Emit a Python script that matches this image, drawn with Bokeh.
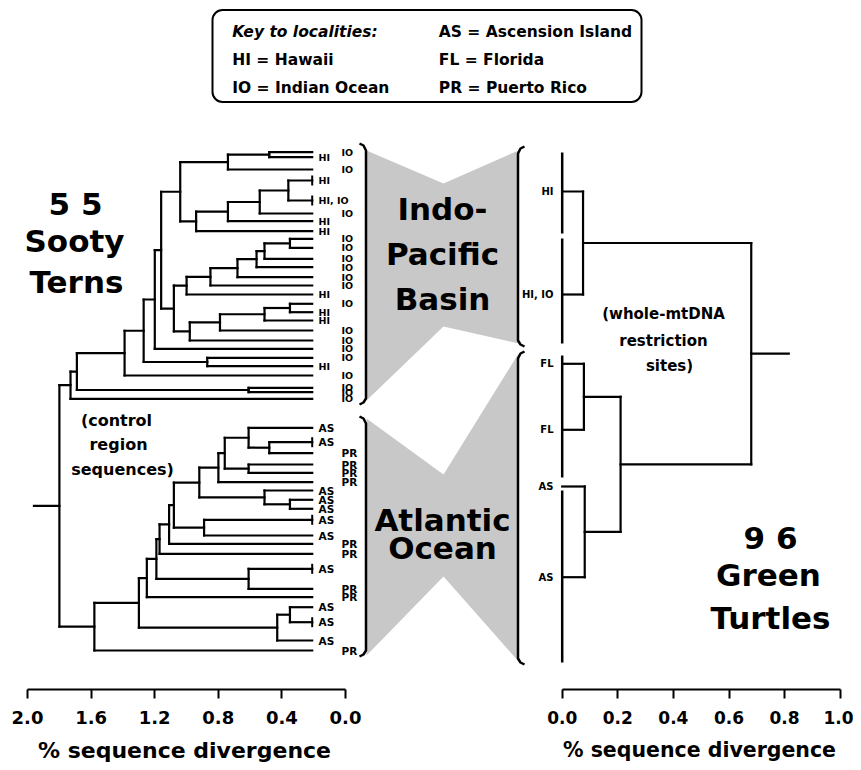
import numpy as np
from bokeh.plotting import figure
from bokeh.models import Range1d, LinearAxis, FixedTicker, PrintfTickFormatter, ColumnDataSource
from bokeh.core.properties import value
from bokeh.embed import file_html
from bokeh.resources import INLINE

# ---------------- data ----------------
key_left = ["Key to localities:", "HI = Hawaii", "IO = Indian Ocean"]
key_right = ["AS = Ascension Island", "FL = Florida", "PR = Puerto Rico"]

# Sooty terns (control region sequences), tips top -> bottom
tern_tip_y = [151.7, 156.7, 169, 180, 200, 213, 220.7, 230.7, 238.3, 247.3, 258.3, 266.7,
              276.7, 285, 294, 303.3, 311.7, 320, 330, 340, 348.3, 357.3, 365.7, 375,
              387.3, 391.7, 398.3,
              427.3, 441.7, 452.7, 464, 472.3, 481.7, 490, 499.3, 508.3, 519.3, 535,
              543.3, 553.3, 568.3, 588.3, 596.7, 606.7, 621.7, 640, 650]
tern_tip_site = ["IO", "HI", "IO", "HI", "HI, IO", "IO", "HI", "HI", "IO", "IO", "IO", "IO",
                 "IO", "IO", "HI", "IO", "HI", "HI", "IO", "IO", "IO", "IO", "HI", "IO",
                 "IO", "IO", "IO",
                 "AS", "AS", "PR", "PR", "PR", "PR", "AS", "AS", "AS", "AS", "AS",
                 "PR", "PR", "AS", "PR", "PR", "AS", "AS", "AS", "PR"]
tern_tip_bar = [3, 4, 28, 36, 40, 44]
tern_join_a = ["t0", "n0", "t3", "n2", "n3", "n4", "n1", "t8", "n7", "n8", "n9", "n10",
               "n11", "t15", "n13", "n14", "n15", "n12", "n6", "n18", "t21", "n19", "n21",
               "t24", "n22", "n24",
               "t28", "t27", "t30", "n27", "n29", "t34", "t33", "n30", "t36", "n33", "n35",
               "n36", "t40", "n37", "n39", "t43", "n41", "n40", "n43", "n25"]
tern_join_b = ["t1", "t2", "t4", "t5", "t6", "t7", "n5", "t9", "t10", "t11", "t12", "t13",
               "t14", "t16", "t17", "t18", "t19", "n16", "n17", "t20", "t22", "n20", "t23",
               "t25", "n23", "t26",
               "t29", "n26", "t31", "n28", "t32", "t35", "n31", "n32", "t37", "n34", "t38",
               "t39", "t41", "n38", "t42", "t44", "t45", "n42", "t46", "n44"]
tern_join_height = [0.27, 0.53, 0.15, 0.33, 0.53, 0.73, 0.83, 0.14, 0.30, 0.35, 0.47, 0.64,
                    0.79, 0.14, 0.30, 0.58, 0.77, 0.87, 0.95, 0.99, 0.66, 1.06, 1.18,
                    0.40, 1.48, 1.52,
                    0.27, 0.40, 0.40, 0.55, 0.59, 0.14, 0.30, 0.71, 0.68, 0.87, 0.90,
                    0.96, 0.40, 0.98, 1.04, 0.14, 0.22, 1.09, 1.37, 1.59]
tern_root_end = 1.75

# Green turtles (whole-mtDNA restriction sites)
turtle_tip_y = [191, 294, 363.3, 429.3, 486, 576.7]
turtle_tip_site = ["HI", "HI, IO", "FL", "FL", "AS", "AS"]
turtle_group_top = [152, 238, 355, 490]
turtle_group_bottom = [233, 343, 477, 662]
turtle_join_a = ["t0", "t2", "t4", "n1", "n0"]
turtle_join_b = ["t1", "t3", "t5", "n2", "n3"]
turtle_join_height = [0.075, 0.078, 0.081, 0.21, 0.68]
turtle_root_end = 0.815

left_ticks = [0.0, 0.4, 0.8, 1.2, 1.6, 2.0]
right_ticks = [0.0, 0.2, 0.4, 0.6, 0.8, 1.0]
axis_title = "% sequence divergence"

# ---------------- layout constants ----------------
W, H = 853, 762
PX0, PX1 = 0, W
PY0, PY1 = 0, H
T0, LS = 311.7, 159.0     # tern tree: tips at px, px per % (reversed)
S0 = 345.0                # left scale bar: 0.0 at px (same px per %)
R0, RS = 561.7, 278.0     # turtle tree / right axis
AXIS_Y = 689.0
FONT = value("DejaVu Sans")

p = figure(width=W, height=H, output_backend="svg", toolbar_location=None,
           x_axis_type=None, y_axis_type=None, min_border=0,
           x_range=Range1d((T0 - PX0) / LS, (T0 - PX1) / LS),
           y_range=Range1d(PY1, PY0))
p.extra_x_ranges = {"scale": Range1d((S0 - PX0) / LS, (S0 - PX1) / LS),
                    "right": Range1d((PX0 - R0) / RS, (PX1 - R0) / RS),
                    "px": Range1d(PX0, PX1)}
p.outline_line_color = None
p.grid.visible = False
p.background_fill_color = "white"


def tree_segments(tip_y, ja, jb, jh):
    pos = {f"t{i}": (0.0, y) for i, y in enumerate(tip_y)}
    x0, y0, x1, y1 = [], [], [], []
    for i, (a, b, h) in enumerate(zip(ja, jb, jh)):
        xa, ya = pos[a]
        xb, yb = pos[b]
        x0 += [xa, xb, h]
        y0 += [ya, yb, ya]
        x1 += [h, h, h]
        y1 += [ya, yb, yb]
        pos[f"n{i}"] = (h, (ya + yb) / 2)
    return dict(x0=x0, y0=y0, x1=x1, y1=y1), pos


# ---------------- gray connectors and brackets ----------------
gray = "#c8c8c8"
p.patch([366, 443, 518, 518, 443, 366], [150, 183, 150, 343, 326, 400],
        x_range_name="px", fill_color=gray, line_color=None)
p.patch([366, 443, 518, 518, 443, 366], [418, 474, 353, 661, 576, 655],
        x_range_name="px", fill_color=gray, line_color=None)

bk_xs = [[359, 363, 365.5, 365.5, 363, 359], [359, 363, 365.5, 365.5, 363, 359],
         [524, 520, 517.5, 517.5, 520, 524], [524, 520, 517.5, 517.5, 520, 524]]
bk_ys = [[143, 145, 150, 398, 402, 404], [416, 418, 423, 650, 654, 656],
         [146, 148, 153, 340, 344, 346], [351, 353, 358, 658, 662, 664]]
p.multi_line(bk_xs, bk_ys, x_range_name="px", line_color="black", line_width=2.5)

# ---------------- left tree ----------------
seg, tpos = tree_segments(tern_tip_y, tern_join_a, tern_join_b, tern_join_height)
root_x, root_y = tpos[f"n{len(tern_join_height) - 1}"]
seg["x0"].append(root_x); seg["y0"].append(root_y)
seg["x1"].append(tern_root_end); seg["y1"].append(root_y)
p.segment("x0", "y0", "x1", "y1", source=ColumnDataSource(seg), line_color="black",
          line_width=2.2, line_cap="square")
p.scatter([0.0] * len(tern_tip_bar), [tern_tip_y[i] for i in tern_tip_bar], marker="dash",
          angle=np.pi / 2, size=10, line_color="black", line_width=2)

col_x = [341 if s in ("IO", "PR") else 318 for s in tern_tip_site]
sz = ["10.5px" if s in ("AS", "PR") else "9.5px" for s in tern_tip_site]
p.text(x="x", y="y", text="t", text_font_size="s",
       source=ColumnDataSource(dict(x=col_x, y=tern_tip_y, t=tern_tip_site, s=sz)),
       x_range_name="px", text_font=FONT, text_font_style="bold", text_baseline="middle",
       text_align="left", text_color="black")

# ---------------- right tree ----------------
seg2, rpos = tree_segments(turtle_tip_y, turtle_join_a, turtle_join_b, turtle_join_height)
rx, ry = rpos[f"n{len(turtle_join_height) - 1}"]
seg2["x0"].append(rx); seg2["y0"].append(ry)
seg2["x1"].append(turtle_root_end); seg2["y1"].append(ry)
p.segment("x0", "y0", "x1", "y1", source=ColumnDataSource(seg2), x_range_name="right",
          line_color="black", line_width=2.2, line_cap="square")
p.segment([0.0] * len(turtle_group_top), turtle_group_top, [0.0] * len(turtle_group_top),
          turtle_group_bottom, x_range_name="right", line_color="black", line_width=2.5)
p.text(x=[553] * len(turtle_tip_y), y=turtle_tip_y, text=turtle_tip_site, x_range_name="px",
       text_font=FONT, text_font_style="bold", text_font_size="10px", text_baseline="middle",
       text_align="right", text_color="black")

# ---------------- axes ----------------
for rng, bounds, ticks, fs in (("scale", (0, 2), left_ticks, "18px"),
                               ("right", (0, 1), right_ticks, "17px")):
    ax = LinearAxis(x_range_name=rng, bounds=bounds, ticker=FixedTicker(ticks=ticks),
                    formatter=PrintfTickFormatter(format="%.1f"), fixed_location=AXIS_Y)
    ax.axis_line_width = 2
    ax.major_tick_line_width = 2
    ax.major_tick_out = 9
    ax.major_tick_in = 0
    ax.minor_tick_out = 0
    ax.minor_tick_in = 0
    ax.major_label_standoff = 12
    ax.major_label_text_font = "DejaVu Sans"
    ax.major_label_text_font_style = "bold"
    ax.major_label_text_font_size = fs
    ax.major_label_text_color = "black"
    p.add_layout(ax, "below")

p.text(x=[184], y=[750], text=[axis_title], x_range_name="px",
       text_font=FONT, text_font_style="bold", text_font_size="22px", text_baseline="middle",
       text_align="center", text_color="black")
p.text(x=[699], y=[749], text=[axis_title], x_range_name="px",
       text_font=FONT, text_font_style="bold", text_font_size="20.5px", text_baseline="middle",
       text_align="center", text_color="black")

# ---------------- titles / annotations ----------------
big = dict(x_range_name="px", text_font=FONT, text_font_style="bold", text_font_size="31px",
           text_baseline="alphabetic", text_align="center", text_color="black")
p.text(x=[75, 74, 76], y=[203, 240, 281], text=["5 5", "Sooty", "Terns"], **big)
p.text(x=[442, 442, 442], y=[208, 253, 298], text=["Indo-", "Pacific", "Basin"], **big)
p.text(x=[442, 442], y=[519, 547], text=["Atlantic", "Ocean"], **big)
p.text(x=[770, 768, 770], y=[537, 574, 617], text=["9 6", "Green", "Turtles"], **big)

small = dict(x_range_name="px", text_font=FONT, text_font_style="bold", text_font_size="16px",
             text_baseline="middle", text_align="center", text_color="black")
p.text(x=[116, 118, 122], y=[420, 444, 469], text=["(control", "region", "sequences)"], **small)
p.text(x=[663, 663, 669], y=[313, 340, 365], text=["(whole-mtDNA", "restriction", "sites)"],
       **dict(small, text_font_size="15px"))

# key box
p.quad(left=[212], right=[641], top=[9.5], bottom=[101.5], x_range_name="px",
       fill_color="white", line_color="black", line_width=2, border_radius=10)
p.text(x=[231.7] * 3, y=[31.7, 59.3, 87.3], text=key_left, x_range_name="px", text_font=FONT,
       text_font_style=["bold italic", "bold", "bold"], text_font_size="15.5px",
       text_baseline="middle", text_align="left", text_color="black")
p.text(x=[438.3] * 3, y=[31.7, 59.3, 87.3], text=key_right, x_range_name="px", text_font=FONT,
       text_font_style="bold", text_font_size="15.5px", text_baseline="middle",
       text_align="left", text_color="black")

open("out.html", "w").write(file_html(p, INLINE))
